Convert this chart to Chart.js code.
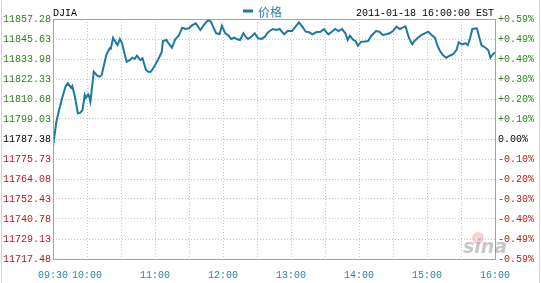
<!DOCTYPE html>
<html>
<head>
<meta charset="utf-8">
<script src="https://cdn.jsdelivr.net/npm/chart.js@4/dist/chart.umd.min.js"></script>
<style>
  html, body { margin: 0; padding: 0; background: #fff; }
  #wrap { width: 541px; height: 283px; }
</style>
</head>
<body>
<div id="wrap"><canvas id="djiaChart" width="541" height="283"></canvas></div>
<script>
// DJIA intraday, 2011-01-18
const times = [
  '09:30','09:33','09:35','09:38','09:41','09:43','09:46','09:47','09:49','09:52',
  '09:54','09:56','09:58','09:59','10:01','10:02','10:03','10:05','10:06','10:09',
  '10:11','10:13','10:15','10:17','10:20','10:21','10:23','10:25','10:27','10:29',
  '10:31','10:33','10:35','10:38','10:40','10:42','10:44','10:47','10:49','10:52',
  '10:54','10:56','10:58','11:01','11:04','11:06','11:07','11:10','11:12','11:15',
  '11:18','11:21','11:24','11:27','11:30','11:33','11:36','11:40','11:43','11:46',
  '11:48','11:50','11:52','11:54','11:57','11:59','12:02','12:05','12:07','12:10',
  '12:12','12:15','12:18','12:20','12:22','12:25','12:28','12:31','12:34','12:37',
  '12:39','12:41','12:44','12:47','12:50','12:54','12:57','13:01','13:04','13:07',
  '13:10','13:13','13:16','13:19','13:22','13:26','13:29','13:33','13:36','13:39',
  '13:42','13:45','13:48','13:50','13:52','13:55','13:57','13:59','14:02','14:05',
  '14:08','14:11','14:15','14:18','14:21','14:24','14:27','14:30','14:33','14:36',
  '14:39','14:41','14:44','14:47','14:49','14:52','14:55','14:58','15:01','15:04',
  '15:07','15:09','15:11','15:14','15:17','15:20','15:23','15:26','15:28','15:31',
  '15:34','15:36','15:38','15:40','15:44','15:46','15:48','15:51','15:54','15:56',
  '15:58','16:00'
];
const prices = [
  11782.89,11797.46,11803.28,11811.09,11817.84,11819.83,11817.26,11818.25,11813.01,11802.35,
  11802.60,11804.27,11813.01,11811.44,11813.42,11812.02,11809.11,11820.76,11826.58,11824.25,
  11823.67,11824.66,11830.48,11836.31,11840.21,11840.00,11846.39,11844.06,11842.13,11845.63,
  11843.13,11837.30,11832.41,11833.40,11834.74,11833.98,11835.90,11833.40,11834.39,11827.57,
  11826.58,11826.40,11828.15,11831.48,11835.32,11838.23,11844.46,11845.05,11843.13,11840.56,
  11845.63,11847.55,11852.21,11851.45,11851.86,11853.78,11854.78,11850.87,11853.78,11856.11,
  11856.70,11854.78,11851.86,11848.95,11848.54,11853.38,11848.95,11847.55,11845.63,11846.39,
  11845.63,11845.05,11848.95,11846.97,11845.63,11846.97,11848.95,11846.04,11845.63,11846.97,
  11848.95,11850.29,11851.45,11850.87,11851.45,11848.37,11850.29,11850.29,11852.79,11855.36,
  11852.79,11849.88,11849.53,11848.37,11849.53,11849.88,11851.45,11848.37,11849.88,11851.45,
  11850.29,11851.45,11848.95,11845.05,11847.55,11845.05,11844.46,11841.73,11844.06,11844.20,
  11844.46,11847.55,11850.29,11849.88,11847.96,11848.37,11848.95,11850.29,11852.79,11851.45,
  11852.40,11853.00,11846.39,11842.54,11844.46,11846.39,11847.96,11848.95,11849.88,11847.96,
  11846.39,11842.13,11839.22,11836.31,11834.74,11835.90,11836.72,11839.22,11843.71,11842.54,
  11843.13,11842.13,11846.04,11851.45,11851.86,11846.97,11842.13,11840.80,11839.22,11834.74,
  11836.72,11837.88
];

const prevClose = 11787.38;
const priceTicks = [
  11857.28, 11845.63, 11833.98, 11822.33, 11810.68, 11799.03, 11787.38,
  11775.73, 11764.08, 11752.43, 11740.78, 11729.13, 11717.48
];
const pctTicks = [
  '+0.59%', '+0.49%', '+0.40%', '+0.30%', '+0.20%', '+0.10%', '0.00%',
  '-0.10%', '-0.20%', '-0.30%', '-0.40%', '-0.49%', '-0.59%'
];
const timeLabels = ['09:30', '10:00', '11:00', '12:00', '13:00', '14:00', '15:00', '16:00'];
const seriesName = '价格';
const symbol = 'DJIA';
const stamp = '2011-01-18 16:00:00 EST';

const lineColor = '#1f78a4';
const upColor = '#2f7f1f';
const downColor = '#b01e1e';
const gridColor = '#c4c4c4';
const mono = "'Liberation Mono', 'DejaVu Sans Mono', monospace";

function toMin(s) {
  const p = s.split(':');
  return (+p[0]) * 60 + (+p[1]) - 570;
}
function fmtMin(m) {
  const t = m + 570;
  return String(Math.floor(t / 60)).padStart(2, '0') + ':' + String(t % 60).padStart(2, '0');
}

const points = times.map((t, i) => ({ x: toMin(t), y: prices[i] }));
const halfHours = [];
for (let m = 0; m <= 390; m += 30) halfHours.push(m);

const frame = {
  id: 'frame',
  afterDraw(chart) {
    const ctx = chart.ctx;
    const a = chart.chartArea;
    ctx.save();
    // outer edges
    ctx.strokeStyle = '#d6d6d6';
    ctx.lineWidth = 1;
    ctx.beginPath();
    ctx.moveTo(1.5, 0); ctx.lineTo(1.5, 283);
    ctx.moveTo(539.5, 0); ctx.lineTo(539.5, 283);
    ctx.stroke();
    // plot box
    ctx.strokeStyle = '#a3a3a3';
    ctx.strokeRect(Math.round(a.left) + 0.5, Math.round(a.top) + 0.5,
      Math.round(a.right - a.left), Math.round(a.bottom - a.top));
    // header
    ctx.fillStyle = '#000';
    ctx.font = '10px ' + mono;
    ctx.textBaseline = 'alphabetic';
    ctx.textAlign = 'left';
    ctx.fillText(symbol, 53, 15.5);
    ctx.textAlign = 'right';
    ctx.fillText(stamp, 494, 15.5);
    // legend
    ctx.fillStyle = lineColor;
    ctx.fillRect(243, 9.5, 10, 3);
    ctx.fillStyle = '#2a7fa6';
    ctx.font = "12px 'Noto Sans CJK SC'";
    ctx.textAlign = 'left';
    ctx.fillText(seriesName, 258, 16.5);
    // watermark
    ctx.globalAlpha = 0.5;
    ctx.fillStyle = '#f0a0a0';
    ctx.beginPath();
    ctx.arc(478, 238, 6, 0, Math.PI * 2);
    ctx.fill();
    ctx.fillStyle = '#fff';
    ctx.beginPath();
    ctx.arc(478, 239, 2.5, 0, Math.PI * 2);
    ctx.fill();
    ctx.fillStyle = '#8f8f8f';
    ctx.font = "italic bold 19px 'DejaVu Sans'";
    ctx.fillText('sina', 463, 253);
    ctx.restore();
  }
};

const ctx = document.getElementById('djiaChart').getContext('2d');
const djiaChart = new Chart(ctx, {
  type: 'line',
  data: {
    datasets: [{
      label: seriesName,
      data: points,
      borderColor: lineColor,
      borderWidth: 2,
      pointRadius: 0,
      tension: 0,
      fill: false
    }]
  },
  options: {
    responsive: false,
    animation: false,
    events: [],
    layout: { padding: { top: 19, left: 0, right: 0, bottom: 0 } },
    plugins: { legend: { display: false }, tooltip: { enabled: false } },
    scales: {
      x: {
        type: 'linear',
        position: 'bottom',
        min: 0,
        max: 390,
        afterBuildTicks: s => { s.ticks = halfHours.map(v => ({ value: v })); },
        afterFit: s => { s.height = 24; },
        ticks: {
          autoSkip: false,
          maxRotation: 0,
          padding: 10,
          color: '#2a87a6',
          font: { family: mono, size: 10 },
          callback: v => timeLabels.includes(fmtMin(v)) ? fmtMin(v) : ''
        },
        grid: { color: gridColor, drawTicks: false },
        border: { display: false, dash: [1, 2] }
      },
      y: {
        position: 'left',
        min: 11717.48,
        max: 11857.28,
        afterBuildTicks: s => { s.ticks = priceTicks.map(v => ({ value: v })); },
        afterFit: s => { s.width = 53; },
        ticks: {
          padding: 2,
          font: { family: mono, size: 10 },
          color: c => {
            const v = c.tick.value;
            if (Math.abs(v - prevClose) < 0.01) return '#000';
            return v > prevClose ? upColor : downColor;
          },
          callback: v => v.toFixed(2)
        },
        grid: { color: gridColor, drawTicks: false },
        border: { display: false, dash: [1, 2] }
      },
      yPct: {
        position: 'right',
        min: 11717.48,
        max: 11857.28,
        afterBuildTicks: s => { s.ticks = priceTicks.map(v => ({ value: v })); },
        afterFit: s => { s.width = 46; },
        ticks: {
          padding: 3,
          font: { family: mono, size: 10 },
          color: c => {
            const v = c.tick.value;
            if (Math.abs(v - prevClose) < 0.01) return '#000';
            return v > prevClose ? upColor : downColor;
          },
          callback: (v, i) => pctTicks[i]
        },
        grid: { drawOnChartArea: false, drawTicks: false },
        border: { display: false }
      }
    }
  },
  plugins: [frame]
});
</script>
</body>
</html>
